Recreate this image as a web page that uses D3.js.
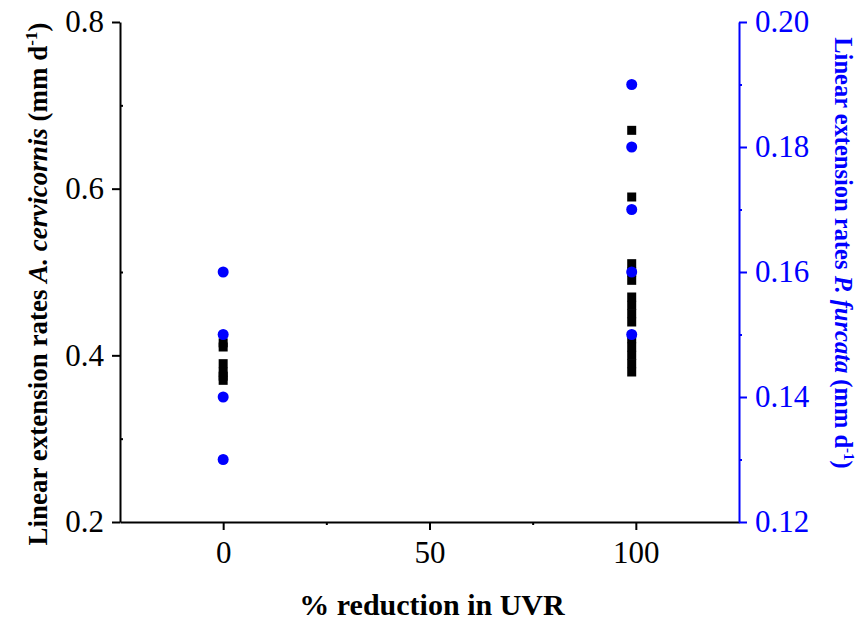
<!DOCTYPE html>
<html>
<head>
<meta charset="utf-8">
<title>UVR reduction</title>
<style>
  body { margin: 0; background: #fff; }
  text { font-family: "Liberation Serif", "Times New Roman", serif; }
</style>
</head>
<body>
<script src="https://d3js.org/d3.v7.min.js"></script>
<script>
// A. cervicornis (left axis, black squares)
var acerX = [0, 0, 0, 0, 0, 0,
             99, 99, 99, 99, 99, 99, 99, 99, 99, 99, 99, 99, 99, 99];
var acerY = [0.415, 0.41, 0.39, 0.38, 0.375, 0.37,
             0.67, 0.59, 0.51, 0.50, 0.49, 0.47, 0.46, 0.45, 0.44, 0.42, 0.41, 0.40, 0.39, 0.38];
// P. furcata (right axis, blue circles)
var pfurX = [0, 0, 0, 0, 99, 99, 99, 99, 99];
var pfurY = [0.16, 0.15, 0.14, 0.13, 0.19, 0.18, 0.17, 0.16, 0.15];

var xTicks = [0, 50, 100];
var yLeftTicks = [0.2, 0.4, 0.6, 0.8];
var yRightTicks = [0.12, 0.14, 0.16, 0.18, 0.20];

const W = 863, H = 622;
const mLeft = 120, mRight = 739, mTop = 22, mBottom = 522;
const blue = "#0000ff";

const svg = d3.select("body").append("svg")
    .attr("width", W)
    .attr("height", H);

var x = d3.scaleLinear().domain([-25, 125]).range([mLeft, mRight]);
var yL = d3.scaleLinear().domain([0.2, 0.8]).range([mBottom, mTop]);
var yR = d3.scaleLinear().domain([0.12, 0.20]).range([mBottom, mTop]);

// axes
svg.append("g")
    .attr("transform", "translate(0," + mBottom + ")")
    .call(d3.axisBottom(x).tickValues(xTicks).tickSize(8).tickPadding(11).tickSizeOuter(0).tickFormat(d3.format("d")));
svg.append("g")
    .attr("transform", "translate(0," + mBottom + ")")
    .call(d3.axisBottom(x).tickValues([25, 75]).tickSize(3).tickSizeOuter(0).tickFormat(""))
    .call(g => g.select(".domain").remove());

svg.append("g")
    .attr("transform", "translate(" + mLeft + ",0)")
    .call(d3.axisLeft(yL).tickValues(yLeftTicks).tickSize(8).tickPadding(8).tickSizeOuter(0).tickFormat(d3.format(".1f")));
svg.append("g")
    .attr("transform", "translate(" + mLeft + ",0)")
    .call(d3.axisRight(yL).tickValues([0.3, 0.5, 0.7]).tickSize(3).tickSizeOuter(0).tickFormat(""))
    .call(g => g.select(".domain").remove());

var yAxisR = svg.append("g")
    .attr("transform", "translate(" + mRight + ",0)")
    .call(d3.axisRight(yR).tickValues(yRightTicks).tickSize(8).tickPadding(8).tickSizeOuter(0).tickFormat(d3.format(".2f")));
var yMinorR = svg.append("g")
    .attr("transform", "translate(" + mRight + ",0)")
    .call(d3.axisRight(yR).tickValues([0.13, 0.15, 0.17, 0.19]).tickSize(3).tickSizeOuter(0).tickFormat(""))
    .call(g => g.select(".domain").remove());

svg.selectAll(".domain, .tick line").attr("stroke-width", 2).attr("stroke", "#000");
svg.selectAll(".tick text").style("font-size", "31px").attr("fill", "#000");
yAxisR.selectAll(".tick line, .domain").attr("stroke", blue);
yMinorR.selectAll("line").attr("stroke", blue);
yAxisR.selectAll(".tick text").attr("fill", blue);

// points
var sq = 9;
svg.append("g").selectAll("rect")
    .data(acerY)
    .enter()
    .append("rect")
    .attr("x", function(d, i) { return x(acerX[i]) - sq / 2; })
    .attr("y", function(d) { return yL(d) - sq / 2; })
    .attr("width", sq)
    .attr("height", sq)
    .attr("fill", "#000");

svg.append("g").selectAll("circle")
    .data(pfurY)
    .enter()
    .append("circle")
    .attr("cx", function(d, i) { return x(pfurX[i]); })
    .attr("cy", function(d) { return yR(d); })
    .attr("r", 5.5)
    .attr("fill", blue);

// titles
svg.append("text")
    .attr("x", 432)
    .attr("y", 615)
    .attr("text-anchor", "middle")
    .style("font-size", "30px")
    .style("font-weight", "bold")
    .text("% reduction in UVR");

var tl = svg.append("text")
    .attr("transform", "translate(47,284) rotate(-90)")
    .attr("text-anchor", "middle")
    .style("font-size", "27px")
    .style("font-weight", "bold");
tl.append("tspan").text("Linear extension rates ");
tl.append("tspan").style("font-style", "italic").text("A. cervicornis");
tl.append("tspan").text(" (mm d");
tl.append("tspan").attr("dy", -10).style("font-size", "17px").text("-1");
tl.append("tspan").attr("dy", 10).text(")");

var tr = svg.append("text")
    .attr("transform", "translate(835,253) rotate(90)")
    .attr("text-anchor", "middle")
    .attr("fill", blue)
    .style("font-size", "24.5px")
    .style("font-weight", "bold");
tr.append("tspan").text("Linear extension rates ");
tr.append("tspan").style("font-style", "italic").text("P. furcata");
tr.append("tspan").text(" (mm d");
tr.append("tspan").attr("dy", -9).style("font-size", "15px").text("-1");
tr.append("tspan").attr("dy", 9).text(")");
</script>
</body>
</html>
